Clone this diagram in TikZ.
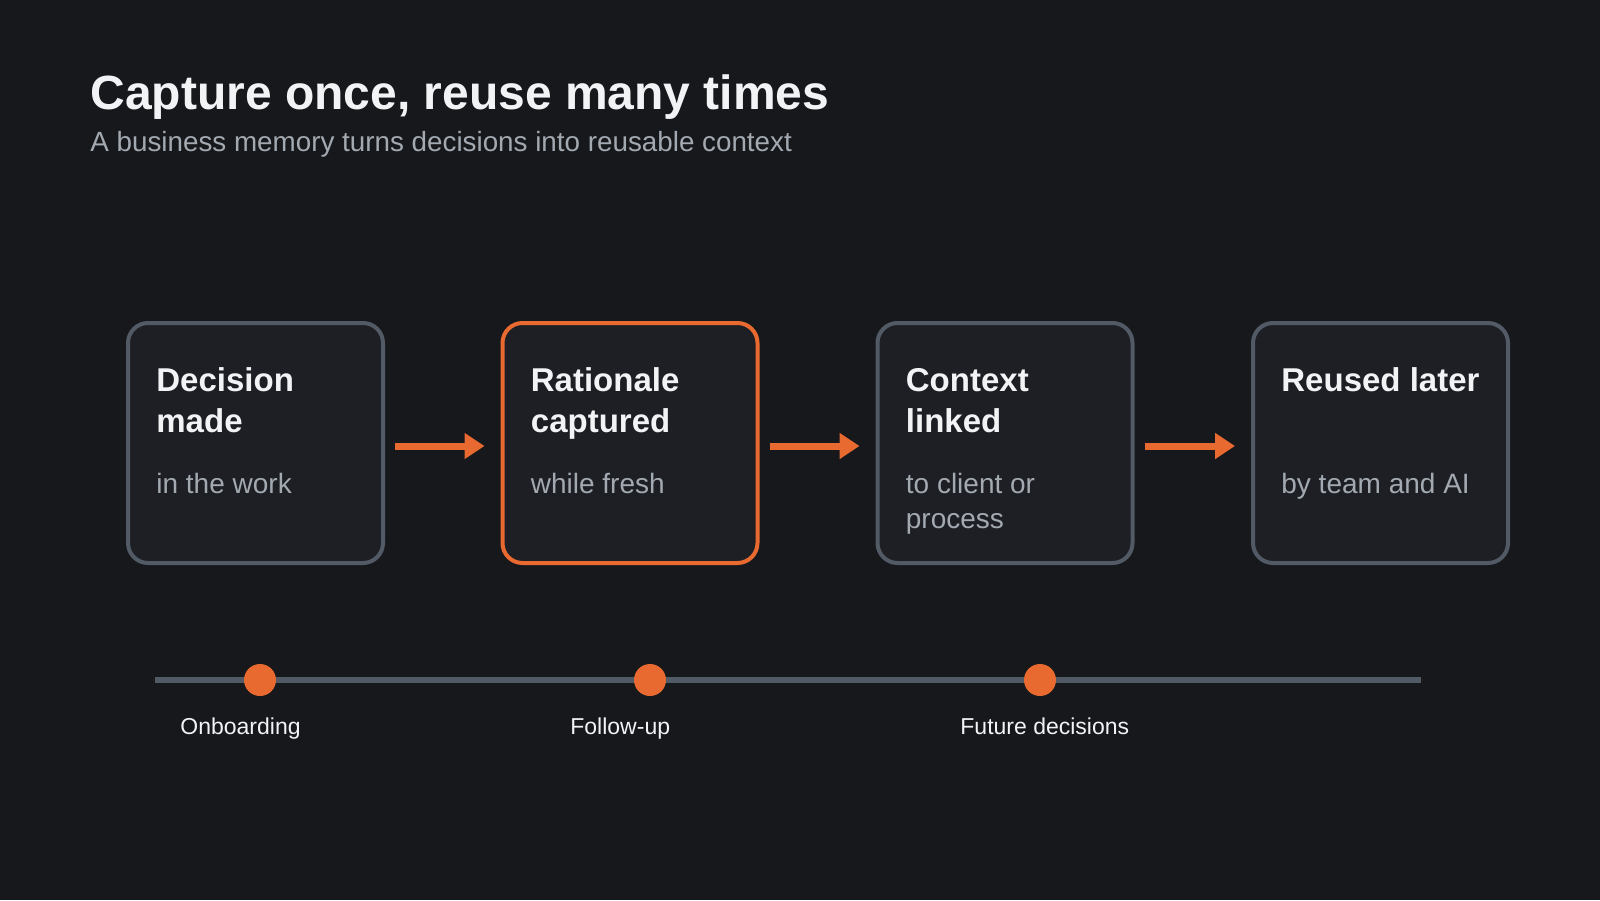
\documentclass[tikz,border=0pt]{standalone}
\usepackage{fontspec}
\setmainfont{Liberation Sans}
\usetikzlibrary{arrows.meta,calc}
\definecolor{bg}{HTML}{17181C}
\definecolor{boxfill}{HTML}{1D1F24}
\definecolor{boxline}{HTML}{525A65}
\definecolor{accent}{HTML}{E86A30}
\definecolor{titlecol}{HTML}{F2F3F5}
\definecolor{subcol}{HTML}{A3A9B1}
\begin{document}
\begin{tikzpicture}[x=0.5pt,y=-0.5pt,
  stepbox/.style={draw=boxline, fill=boxfill, line width=2pt, rounded corners=10pt,
    minimum width=127.5pt, minimum height=120pt, inner sep=0pt},
  hotbox/.style={stepbox, draw=accent},
  maintitle/.style={anchor=base west, inner sep=0pt, text=titlecol, font=\fontsize{24pt}{28pt}\selectfont\bfseries},
  subtitle/.style={anchor=base west, inner sep=0pt, text=subcol, font=\fontsize{13.9pt}{17pt}\selectfont},
  boxtitle/.style={anchor=base west, inner sep=0pt, text=titlecol, font=\fontsize{16.5pt}{20pt}\selectfont\bfseries},
  boxbody/.style={anchor=base west, inner sep=0pt, text=subcol, font=\fontsize{14pt}{17pt}\selectfont},
  flow/.style={draw=accent, line width=3.5pt, -{Triangle[length=10pt,width=12.5pt]}},
  timeline/.style={draw=boxline, line width=3pt},
  dot/.style={circle, fill=accent, minimum size=16pt, inner sep=0pt},
  tlabel/.style={anchor=base west, inner sep=0pt, text=titlecol, font=\fontsize{11.5pt}{14pt}\selectfont}
]
\useasboundingbox[fill=bg] (0,0) rectangle (1600,900);

% title
\node[maintitle] (title) at (90,109) {Capture once, reuse many times};
\node[subtitle] (sub) at (90,151) {A business memory turns decisions into reusable context};

% boxes
\node[stepbox] (b1) at (255.5,443) {};
\node[hotbox]  (b2) at (630,443) {};
\node[stepbox] (b3) at (1005,443) {};
\node[stepbox] (b4) at (1380.5,443) {};

% box texts
\node[boxtitle] (t1a) at ($(b1.north west)+(30,70)$) {Decision};
\node[boxtitle] (t1b) at ($(b1.north west)+(30,111)$) {made};
\node[boxbody]  (s1a) at ($(b1.north west)+(30,172)$) {in the work};

\node[boxtitle] (t2a) at ($(b2.north west)+(30,70)$) {Rationale};
\node[boxtitle] (t2b) at ($(b2.north west)+(30,111)$) {captured};
\node[boxbody]  (s2a) at ($(b2.north west)+(30,172)$) {while fresh};

\node[boxtitle] (t3a) at ($(b3.north west)+(30,70)$) {Context};
\node[boxtitle] (t3b) at ($(b3.north west)+(30,111)$) {linked};
\node[boxbody]  (s3a) at ($(b3.north west)+(30,172)$) {to client or};
\node[boxbody]  (s3b) at ($(b3.north west)+(30,207)$) {process};

\node[boxtitle] (t4a) at ($(b4.north west)+(30,70)$) {Reused later};
\node[boxbody]  (s4a) at ($(b4.north west)+(30,172)$) {by team and AI};

% arrows
\draw[flow] ([xshift=5pt,yshift=-1.5pt]b1.east) -- ([xshift=-8pt,yshift=-1.5pt]b2.west);
\draw[flow] ([xshift=5pt,yshift=-1.5pt]b2.east) -- ([xshift=-8pt,yshift=-1.5pt]b3.west);
\draw[flow] ([xshift=5pt,yshift=-1.5pt]b3.east) -- ([xshift=-8pt,yshift=-1.5pt]b4.west);

% timeline
\coordinate (tl0) at (155,680);
\coordinate (tl1) at (1421,680);
\draw[timeline] (tl0) -- (tl1);
\node[dot] (d1) at (260,680) {};
\node[dot] (d2) at (650,680) {};
\node[dot] (d3) at (1040,680) {};
\node[tlabel] (l1) at ($(d1)+(-80,54)$) {Onboarding};
\node[tlabel] (l2) at ($(d2)+(-80,54)$) {Follow-up};
\node[tlabel] (l3) at ($(d3)+(-80,54)$) {Future decisions};
\end{tikzpicture}
\end{document}
